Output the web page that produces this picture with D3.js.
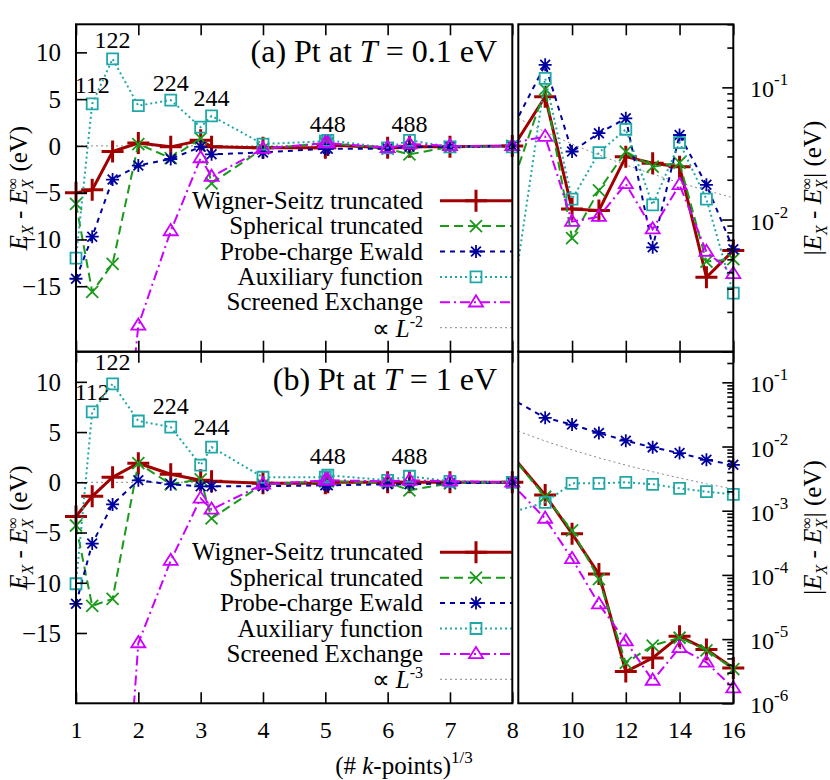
<!DOCTYPE html>
<html>
<head>
<meta charset="utf-8">
<script src="https://cdn.jsdelivr.net/npm/d3@7"></script>
<style>
body { margin: 0; background: #fff; }
svg text { font-family: "Liberation Serif", "Times New Roman"; fill: #000; }
</style>
</head>
<body>
<svg id="chart" width="830" height="780"></svg>
<script>
// (# k-points)^1/3 for the left panels and the right (log) panels
var kLeft = [1, 1.26, 1.587, 2, 2.52, 3, 3.175, 4, 5, 5.04, 6, 6.35, 7, 8];
var kRight = [7, 9, 10, 11, 12, 13, 14, 15, 16];
var kRef = [8, 9, 10, 11, 12, 13, 14, 15, 16];

var gridNames = ["112", "122", "224", "244", "448", "488"];
var gridK = [1.26, 1.587, 2.52, 3.175, 5.04, 6.35];
var gridLabelA = [5.7, 10.5, 5.9, 4.3, 1.5, 1.5];
var gridLabelB = [8.2, 11.2, 6.8, 4.7, 1.8, 1.8];

var methodNames = ["Wigner-Seitz truncated", "Spherical truncated", "Probe-charge Ewald",
	"Auxiliary function", "Screened Exchange"];

// (a) T = 0.1 eV, E_X - E_X^inf (eV)
var wsA    = [-5.0, -4.7, -0.6, 0.3, -0.1, 0.6, -0.1, -0.2, -0.2, 0.1, -0.2, -0.1, -0.1, 0.0];
var sphA   = [-6.2, -15.6, -12.6, 0.2, -1.3, 0.8, -4.0, -0.3, 0.3, 0.3, -0.3, -0.9, -0.1, 0.0];
var probeA = [-14.2, -9.7, -3.6, -2.1, -1.4, -0.1, -0.9, -0.7, -0.3, -0.3, -0.3, -0.1, -0.1, 0.0];
var auxA   = [-12.0, 4.5, 9.3, 4.3, 4.9, 2.0, 3.2, 0.2, 0.5, 0.6, -0.2, 0.6, -0.1, -0.1];
var sxA    = [NaN, NaN, -46, -19.2, -9.1, -1.3, -3.3, -0.3, 0.3, 0.3, -0.2, 0.2, 0.0, 0.0];

// (a) |E_X - E_X^inf| (eV)
var wsAbsA    = [0.0194, 0.085, 0.0120, 0.0117, 0.0299, 0.0267, 0.0251, 0.00366, 0.00582];
var sphAbsA   = [0.0065, 0.097, 0.00723, 0.0166, 0.0327, 0.0251, 0.0269, 0.00481, 0.00501];
var probeAbsA = [0.0241, 0.148, 0.0327, 0.045, 0.0583, 0.00616, 0.0436, 0.0183, 0.00596];
var auxAbsA   = [0.0002, 0.117, 0.01425, 0.0321, 0.0482, 0.0129, 0.0382, 0.01425, 0.00277];
var sxAbsA    = [0.0356, 0.0424, 0.00964, 0.0105, 0.0186, 0.00845, 0.0183, 0.00571, 0.00388];
var refA      = [0.0583, 0.0461, 0.0373, 0.0308, 0.0259, 0.0221, 0.0190, 0.0166, 0.0146];

// (b) T = 1 eV
var wsB    = [-3.4, -1.4, 0.5, 1.9, 0.8, 0.2, 0.1, -0.1, -0.1, 0.0, 0.0, 0.0, 0.0, 0.0];
var sphB   = [-4.3, -12.3, -11.6, 1.9, -0.2, 0.3, -3.6, -0.2, 0.1, 0.1, 0.0, -0.8, -0.1, 0.0];
var probeB = [-12.1, -6.1, -2.2, 0.2, -0.2, -0.4, -0.4, -0.4, -0.3, -0.3, -0.2, -0.2, -0.1, 0.0];
var auxB   = [-10.1, 7.0, 9.8, 6.1, 5.5, 1.7, 3.5, 0.5, 0.5, 0.7, 0.2, 0.6, 0.1, 0.0];
var sxB    = [NaN, NaN, -52, -16.0, -7.8, -1.6, -2.7, -0.2, 0.2, 0.2, 0.1, 0.2, 0.1, 0.0];

var wsAbsB    = [0.0173, 1.75e-3, 4.39e-4, 1.03e-4, 3.13e-6, 5.08e-6, 1.11e-5, 6.87e-6, 3.55e-6];
var sphAbsB   = [0.0173, 1.65e-3, 4.94e-4, 8.6e-5, 4.25e-6, 7.94e-6, 1.05e-5, 6.7e-6, 3.42e-6];
var probeAbsB = [0.0828, 0.028, 0.022, 0.0163, 0.01233, 9.7e-3, 7.9e-3, 6.21e-3, 5.18e-3];
var auxAbsB   = [7.6e-4, 1.35e-3, 2.67e-3, 2.67e-3, 2.77e-3, 2.58e-3, 2.23e-3, 1.98e-3, 1.8e-3];
var sxAbsB    = [0.00558, 7.55e-4, 1.78e-4, 3.49e-5, 9.27e-6, 2.26e-6, 7.3e-6, 4.34e-6, 1.72e-6];
var refB      = [0.01734, 0.01218, 0.00888, 0.00667, 0.00514, 0.00404, 0.00324, 0.00263, 0.00217];

var yTicksLeft = [-15, -10, -5, 0, 5, 10];
var xTicksLeft = [1, 2, 3, 4, 5, 6, 7, 8];
var xTicksRight = [10, 12, 14, 16];

var styles = [
	{color: "#a00000", width: 3, dash: null, marker: "plus", size: 11},
	{color: "#1a9a1a", width: 2, dash: "9,5", marker: "cross", size: 6},
	{color: "#0000a0", width: 2, dash: "5,5", marker: "star", size: 6.5},
	{color: "#20a8a8", width: 2, dash: "2,3", marker: "square", size: 5.5},
	{color: "#cc00ff", width: 2, dash: "10,4,2,4", marker: "triangle", size: 7}
];

var svg = d3.select("#chart");
var xLeft = d3.scaleLinear().domain([1, 8]).range([76, 512.3]);
var xRight = d3.scaleLinear().domain([8, 16]).range([518.3, 733.3]);

function markerPath(type, s){
	var h = s;
	switch(type){
		case "plus": return "M" + (-h) + ",0H" + h + "M0," + (-h) + "V" + h;
		case "cross": return "M" + (-h) + "," + (-h) + "L" + h + "," + h + "M" + (-h) + "," + h + "L" + h + "," + (-h);
		case "star": return "M" + (-h) + ",0H" + h + "M0," + (-h) + "V" + h +
			"M" + (-h*0.75) + "," + (-h*0.75) + "L" + (h*0.75) + "," + (h*0.75) +
			"M" + (-h*0.75) + "," + (h*0.75) + "L" + (h*0.75) + "," + (-h*0.75);
		case "square": return "M" + (-h) + "," + (-h) + "H" + h + "V" + h + "H" + (-h) + "Z";
		case "triangle": return "M0," + (-h) + "L" + h + "," + (h*0.6) + "L" + (-h) + "," + (h*0.6) + "Z";
	}
}

function drawMarkers(g, pts, st){
	g.selectAll("path.pt")
		.data(pts)
		.enter()
		.append("path")
		.attr("class", "pt")
		.attr("transform", function(d){ return "translate(" + d[0] + "," + d[1] + ")"; })
		.attr("d", markerPath(st.marker, st.size))
		.attr("fill", "none")
		.attr("stroke", st.color)
		.attr("stroke-width", st.marker == "plus" ? 3 : 1.8);
}

function addELabel(sel, abs){
	sel.append("tspan").text(abs ? "|" : "");
	sel.append("tspan").attr("font-style", "italic").text("E");
	sel.append("tspan").attr("font-style", "italic").attr("font-size", 16).attr("dy", 6).text("X");
	sel.append("tspan").attr("dy", -6).text(" - ");
	sel.append("tspan").attr("font-style", "italic").text("E");
	sel.append("tspan").attr("font-style", "italic").attr("font-size", 16).attr("dy", 6).text("X");
	sel.append("tspan").attr("font-size", 16).attr("dx", -10).attr("dy", -15).text("\u221E");
	sel.append("tspan").attr("dy", 9).text((abs ? "|" : "") + " (eV)");
}

function drawPanel(p, id){
	var yLin = d3.scaleLinear().domain([-22, 13]).range([p.bottom, p.top]);
	var yLog = d3.scaleLog().domain(p.logDomain).range([p.bottom, p.top]);
	var g = svg.append("g");

	var defs = g.append("defs");
	defs.append("clipPath").attr("id", "clipL" + id)
		.append("rect").attr("x", xLeft(1)).attr("y", p.top)
		.attr("width", xLeft(8) - xLeft(1)).attr("height", p.bottom - p.top);
	defs.append("clipPath").attr("id", "clipR" + id)
		.append("rect").attr("x", xRight(8)).attr("y", p.top)
		.attr("width", xRight(16) - xRight(8)).attr("height", p.bottom - p.top);

	// zero line
	g.append("line")
		.attr("x1", xLeft(1)).attr("x2", xLeft(8))
		.attr("y1", yLin(0)).attr("y2", yLin(0))
		.attr("stroke", "#888").attr("stroke-width", 1).attr("stroke-dasharray", "2,3");

	// reference power law in log panel
	var refLine = d3.line()
		.curve(d3.curveMonotoneX)
		.x(function(d){ return xRight(d[0]); })
		.y(function(d){ return yLog(d[1]); });
	g.append("path")
		.attr("clip-path", "url(#clipR" + id + ")")
		.attr("d", refLine(d3.zip(kRef, p.ref)))
		.attr("fill", "none").attr("stroke", "#888").attr("stroke-width", 1).attr("stroke-dasharray", "2,3");

	// grid-size labels
	g.selectAll("text.grid")
		.data(d3.zip(gridK, p.labelY, gridNames))
		.enter()
		.append("text")
		.attr("class", "grid")
		.attr("x", function(d){ return xLeft(d[0]); })
		.attr("y", function(d){ return yLin(d[1]); })
		.attr("text-anchor", "middle")
		.attr("font-size", 24)
		.text(function(d){ return d[2]; });

	var lineL = d3.line()
		.defined(function(d){ return !isNaN(d[1]); })
		.x(function(d){ return xLeft(d[0]); })
		.y(function(d){ return yLin(d[1]); });
	var lineR = d3.line()
		.x(function(d){ return xRight(d[0]); })
		.y(function(d){ return yLog(d[1]); });

	styles.forEach(function(st, i){
		var dl = d3.zip(kLeft, p.values[i]);
		var dr = d3.zip(kRight, p.absValues[i]);
		var s = g.append("g");
		s.append("path")
			.attr("clip-path", "url(#clipL" + id + ")")
			.attr("d", lineL(dl))
			.attr("fill", "none").attr("stroke", st.color)
			.attr("stroke-width", st.width).attr("stroke-dasharray", st.dash);
		s.append("path")
			.attr("clip-path", "url(#clipR" + id + ")")
			.attr("d", lineR(dr))
			.attr("fill", "none").attr("stroke", st.color)
			.attr("stroke-width", st.width).attr("stroke-dasharray", st.dash);
		var pts = dl.filter(function(d){ return !isNaN(d[1]) && d[1] >= -22 && d[1] <= 13; })
			.map(function(d){ return [xLeft(d[0]), yLin(d[1])]; })
			.concat(dr.filter(function(d){ return d[0] >= 8 && d[1] >= p.logDomain[0] && d[1] <= p.logDomain[1]; })
			.map(function(d){ return [xRight(d[0]), yLog(d[1])]; }));
		drawMarkers(s, pts, st);
	});

	// legend
	var rowY = function(i){ return p.bottom - 24 - (5 - i) * 25.4; };
	var key = g.append("g");
	styles.forEach(function(st, i){
		key.append("text")
			.attr("x", 423).attr("y", rowY(i) + 8)
			.attr("text-anchor", "end").attr("font-size", 25)
			.text(methodNames[i]);
		key.append("line")
			.attr("x1", 440).attr("x2", xLeft(8))
			.attr("y1", rowY(i)).attr("y2", rowY(i))
			.attr("stroke", st.color).attr("stroke-width", st.width)
			.attr("stroke-dasharray", st.dash);
		drawMarkers(key.append("g").attr("class", "k" + i), [[476, rowY(i)]], st);
	});
	var refText = key.append("text")
		.attr("x", 423).attr("y", rowY(5) + 9)
		.attr("text-anchor", "end").attr("font-size", 25);
	refText.append("tspan").text("\u221D ");
	refText.append("tspan").attr("font-style", "italic").text("L");
	refText.append("tspan").attr("font-size", 16).attr("dy", -10).text(p.refPower);
	key.append("line")
		.attr("x1", 440).attr("x2", xLeft(8))
		.attr("y1", rowY(5)).attr("y2", rowY(5))
		.attr("stroke", "#888").attr("stroke-width", 1).attr("stroke-dasharray", "2,3");

	// title
	var title = g.append("text")
		.attr("x", 497).attr("y", p.top + (p.titleY))
		.attr("text-anchor", "end").attr("font-size", 32);
	title.append("tspan").text(p.tag + " Pt at ");
	title.append("tspan").attr("font-style", "italic").text("T");
	title.append("tspan").text(" = " + p.temp + " eV");

	// axes (inward ticks)
	var ax = g.append("g").attr("class", "axes");
	ax.append("g").attr("transform", "translate(" + xLeft(1) + ",0)")
		.call(d3.axisLeft(yLin).tickValues(yTicksLeft).tickSizeInner(-11).tickSizeOuter(0).tickPadding(15))
		.selectAll("text").attr("font-size", 25).attr("dy", "0.33em");
	ax.append("g").attr("transform", "translate(0," + p.bottom + ")")
		.call(d3.axisBottom(xLeft).tickValues(xTicksLeft).tickSizeInner(-11).tickSizeOuter(0)
			.tickPadding(18).tickFormat(p.showX ? d3.format("d") : ""))
		.selectAll("text").attr("font-size", 24);
	ax.append("g").attr("transform", "translate(0," + p.top + ")")
		.call(d3.axisTop(xLeft).tickValues(xTicksLeft).tickSizeInner(-11).tickSizeOuter(0).tickFormat(""));
	ax.append("g").attr("transform", "translate(0," + p.bottom + ")")
		.call(d3.axisBottom(xRight).tickValues(xTicksRight).tickSizeInner(-11).tickSizeOuter(0)
			.tickPadding(18).tickFormat(p.showX ? d3.format("d") : ""))
		.selectAll("text").attr("font-size", 24);
	ax.append("g").attr("transform", "translate(0," + p.top + ")")
		.call(d3.axisTop(xRight).tickValues(xTicksRight).tickSizeInner(-11).tickSizeOuter(0).tickFormat(""));

	var lo = Math.round(Math.log10(p.logDomain[0]));
	var majors = [], minors = [];
	for(var e = lo; e <= 0; e++){
		var base = Math.pow(10, e);
		if(base <= p.logDomain[1]) majors.push(base);
		for(var m = 2; m <= 9; m++){
			if(m * base <= p.logDomain[1] * 1.0001) minors.push(m * base);
		}
	}
	ax.append("g").attr("transform", "translate(" + xRight(16) + ",0)")
		.call(d3.axisRight(yLog).tickValues(majors).tickSizeInner(-11).tickSizeOuter(0).tickFormat(""));
	ax.append("g").attr("transform", "translate(" + xRight(16) + ",0)")
		.call(d3.axisRight(yLog).tickValues(minors).tickSizeInner(-6).tickSizeOuter(0).tickFormat(""));
	ax.selectAll(".domain").remove();
	ax.selectAll(".tick line").attr("stroke", "#000").attr("stroke-width", 1.6);
	ax.selectAll("g").attr("font-family", null);
	ax.selectAll("text").attr("fill", "#000");

	var logLab = g.selectAll("text.loglab")
		.data(p.logLabels)
		.enter()
		.append("text")
		.attr("class", "loglab")
		.attr("x", 750)
		.attr("y", function(d){ return yLog(d); })
		.attr("dy", "0.42em")
		.attr("font-size", 24);
	logLab.append("tspan").text("10");
	logLab.append("tspan").attr("font-size", 17).attr("dy", -12)
		.text(function(d){ return "-" + Math.round(-Math.log10(d)); });

	// frames
	g.append("rect").attr("x", xLeft(1)).attr("y", p.top)
		.attr("width", xLeft(8) - xLeft(1)).attr("height", p.bottom - p.top)
		.attr("fill", "none").attr("stroke", "#000").attr("stroke-width", 2);
	g.append("rect").attr("x", xRight(8)).attr("y", p.top)
		.attr("width", xRight(16) - xRight(8)).attr("height", p.bottom - p.top)
		.attr("fill", "none").attr("stroke", "#000").attr("stroke-width", 2);

	// y labels
	var cy = (p.top + p.bottom) / 2;
	var yl = g.append("text")
		.attr("transform", "translate(27," + cy + ") rotate(-90)")
		.attr("text-anchor", "middle").attr("font-size", 25);
	addELabel(yl, false);
	var yr = g.append("text")
		.attr("transform", "translate(821," + cy + ") rotate(-90)")
		.attr("text-anchor", "middle").attr("font-size", 25);
	addELabel(yr, true);
}

var panelA = {
	top: 24.3, bottom: 351.7, titleY: 38,
	values: [wsA, sphA, probeA, auxA, sxA],
	absValues: [wsAbsA, sphAbsA, probeAbsA, auxAbsA, sxAbsA],
	ref: refA, refPower: "-2", labelY: gridLabelA,
	logDomain: [1e-3, 0.3], logLabels: [1e-1, 1e-2],
	tag: "(a)", temp: "0.1", showX: false
};
var panelB = {
	top: 351.7, bottom: 703.3, titleY: 38,
	values: [wsB, sphB, probeB, auxB, sxB],
	absValues: [wsAbsB, sphAbsB, probeAbsB, auxAbsB, sxAbsB],
	ref: refB, refPower: "-3", labelY: gridLabelB,
	logDomain: [1e-6, 0.3], logLabels: [1e-1, 1e-2, 1e-3, 1e-4, 1e-5, 1e-6],
	tag: "(b)", temp: "1", showX: true
};

drawPanel(panelA, "a");
drawPanel(panelB, "b");

var xl = svg.append("text")
	.attr("x", 404).attr("y", 774)
	.attr("text-anchor", "middle").attr("font-size", 25);
xl.append("tspan").text("(# ");
xl.append("tspan").attr("font-style", "italic").text("k");
xl.append("tspan").text("-points)");
xl.append("tspan").attr("font-size", 17).attr("dy", -11).text("1/3");
</script>
</body>
</html>
